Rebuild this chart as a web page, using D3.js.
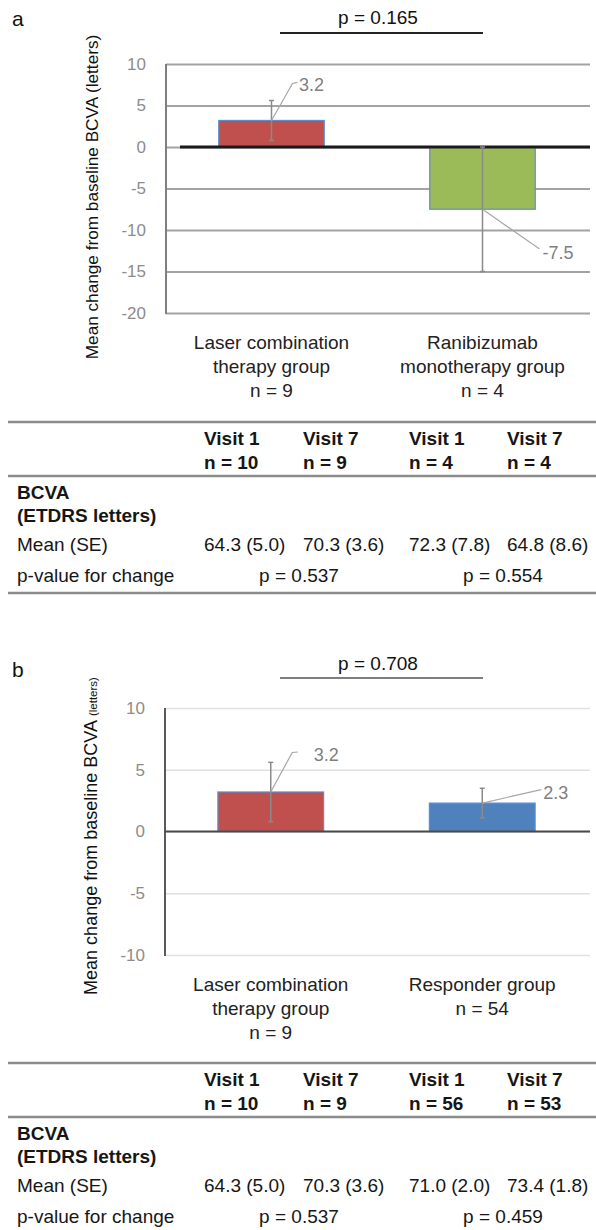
<!DOCTYPE html>
<html><head><meta charset="utf-8">
<script src="https://cdn.jsdelivr.net/npm/d3@7"></script>
<style>body{margin:0;background:#fff}svg{display:block}</style>
</head><body>
<svg id="c" width="596" height="1230"></svg>
<script>
// ---------- DATA ----------
const categoriesA = ["Laser combination therapy group", "Ranibizumab monotherapy group"];
const labelLinesA = [["Laser combination", "therapy group", "n = 9"], ["Ranibizumab", "monotherapy group", "n = 4"]];
const valuesA = [3.2, -7.5];
const errorsA = [2.4, 7.5];
const ticksA = [10, 5, 0, -5, -10, -15, -20];
const pCompareA = "p = 0.165";

const categoriesB = ["Laser combination therapy group", "Responder group"];
const labelLinesB = [["Laser combination", "therapy group", "n = 9"], ["Responder group", "n = 54"]];
const valuesB = [3.2, 2.3];
const errorsB = [2.4, 1.2];
const ticksB = [10, 5, 0, -5, -10];
const pCompareB = "p = 0.708";

const visitHeadA = [["Visit 1", "n = 10"], ["Visit 7", "n = 9"], ["Visit 1", "n = 4"], ["Visit 7", "n = 4"]];
const meansA = ["64.3 (5.0)", "70.3 (3.6)", "72.3 (7.8)", "64.8 (8.6)"];
const pChangeA = ["p = 0.537", "p = 0.554"];

const visitHeadB = [["Visit 1", "n = 10"], ["Visit 7", "n = 9"], ["Visit 1", "n = 56"], ["Visit 7", "n = 53"]];
const meansB = ["64.3 (5.0)", "70.3 (3.6)", "71.0 (2.0)", "73.4 (1.8)"];
const pChangeB = ["p = 0.537", "p = 0.459"];

const rowLabels = ["BCVA", "(ETDRS letters)", "Mean (SE)", "p-value for change"];
const barColorsA = ["#C0504D", "#9BBB59"];
const barColorsB = ["#C0504D", "#4F81BD"];

// ---------- LAYOUT ----------
const FONT = "'Liberation Sans', Arial, Helvetica, sans-serif";
const svg = d3.select("#c");

function panel(cfg) {
  const g = svg.append("g");
  const x = d3.scaleBand().domain(cfg.categories).range([cfg.x0, cfg.x1]).paddingInner(0.5).paddingOuter(0.25);
  const y = d3.scaleLinear().domain(cfg.domain).range([cfg.yBottom, cfg.yTop]);

  // panel letter
  g.append("text").attr("x", 12).attr("y", cfg.letterY).text(cfg.letter)
    .attr("font-family", FONT).attr("font-size", 21).attr("fill", "#111");

  // p compare
  g.append("text").attr("x", 378).attr("y", cfg.yTop - cfg.pOff).attr("dy", "0.35em")
    .attr("text-anchor", "middle").attr("font-family", FONT).attr("font-size", 19).attr("fill", "#111")
    .text(cfg.pText);
  g.append("line").attr("x1", 280).attr("x2", 483)
    .attr("y1", cfg.yTop - cfg.pLineOff).attr("y2", cfg.yTop - cfg.pLineOff)
    .attr("stroke", cfg.pLineColor).attr("stroke-width", 2);

  // grid + ticks
  const ax = g.append("g").attr("transform", `translate(${cfg.x0},0)`)
    .call(d3.axisLeft(y).tickValues(cfg.ticks).tickSize(-(cfg.x1 + 2 - cfg.x0)).tickPadding(20).tickFormat(d3.format("d")));
  ax.select(".domain").remove();
  ax.selectAll(".tick line").attr("stroke", cfg.gridColor).attr("stroke-width", cfg.gridWidth);
  ax.selectAll(".tick text").attr("font-family", FONT).attr("font-size", 17).attr("fill", "#8c8c8c")
    .text(d => d < 0 ? "-" + Math.abs(d) : d);

  // y axis line
  g.append("line").attr("x1", cfg.x0).attr("x2", cfg.x0).attr("y1", y(cfg.domain[1])).attr("y2", y(cfg.domain[0]) + 1)
    .attr("stroke", cfg.axisColor).attr("stroke-width", 2);

  // y title
  const t = g.append("text").attr("transform", `translate(${cfg.titleX},${cfg.titleY}) rotate(-90)`)
    .attr("text-anchor", "middle").attr("font-family", FONT).attr("fill", "#111");
  t.append("tspan").attr("font-size", cfg.titleSize).text("Mean change from baseline BCVA ");
  t.append("tspan").attr("font-size", cfg.titleSmall).text("(letters)");

  // bars
  const data = cfg.categories.map((c, i) => ({c, v: cfg.values[i], e: cfg.errors[i], col: cfg.colors[i], i}));
  g.selectAll("rect.bar").data(data).join("rect").attr("class", "bar")
    .attr("x", d => x(d.c)).attr("width", x.bandwidth())
    .attr("y", d => Math.min(y(d.v), y(0))).attr("height", d => Math.abs(y(d.v) - y(0)))
    .attr("fill", d => d.col).attr("stroke", "#5B8ED0").attr("stroke-width", 1.2);

  // zero line
  g.append("line").attr("x1", cfg.zeroStart).attr("x2", cfg.x1 + 2).attr("y1", y(0)).attr("y2", y(0))
    .attr("stroke", cfg.zeroColor).attr("stroke-width", cfg.zeroWidth);

  // error bars
  const cx = d => x(d.c) + x.bandwidth() / 2;
  g.selectAll("line.err").data(data).join("line").attr("class", "err")
    .attr("x1", cx).attr("x2", cx).attr("y1", d => y(d.v + d.e)).attr("y2", d => y(d.v - d.e))
    .attr("stroke", "#8a8a8a").attr("stroke-width", 1.5);
  ["top", "bot"].forEach(k => {
    g.selectAll("line.cap" + k).data(data).join("line").attr("class", "cap" + k)
      .attr("x1", d => cx(d) - 2.5).attr("x2", d => cx(d) + 2.5)
      .attr("y1", d => y(k === "top" ? d.v + d.e : d.v - d.e)).attr("y2", d => y(k === "top" ? d.v + d.e : d.v - d.e))
      .attr("stroke", "#8a8a8a").attr("stroke-width", 1.5);
  });

  // data labels with leader lines
  data.forEach((d, i) => {
    const L = cfg.labelOff[i];
    const px = cx(d), py = y(d.v);
    g.append("path").attr("d", `M${px},${py} L${px + L.lx},${py + L.ly} L${px + L.lx2},${py + L.ly2}`)
      .attr("fill", "none").attr("stroke", "#a6a6a6").attr("stroke-width", 1.2);
    g.append("text").attr("x", px + L.tx).attr("y", py + L.ty).attr("dy", "0.35em")
      .attr("font-family", FONT).attr("font-size", 18).attr("fill", "#7f7f7f")
      .text(d.v.toFixed(1));
  });

  // category labels
  cfg.labelLines.forEach((lines, i) => {
    const c = x(cfg.categories[i]) + x.bandwidth() / 2;
    lines.forEach((ln, j) => {
      g.append("text").attr("x", c).attr("y", y(cfg.domain[0]) + 29 + j * 24).attr("dy", "0.35em")
        .attr("text-anchor", "middle").attr("font-family", FONT).attr("font-size", 19).attr("fill", "#222")
        .text(ln);
    });
  });

  // table
  const T = cfg.tableTop;
  const colX = [204, 303, 409, 507];
  const hl = yy => g.append("line").attr("x1", 8).attr("x2", 596).attr("y1", yy).attr("y2", yy)
    .attr("stroke", "#8c8c8c").attr("stroke-width", 2.5);
  hl(T); hl(T + 54); hl(T + 171);
  const txt = (xx, yy, s, bold, anchor) => g.append("text").attr("x", xx).attr("y", yy).attr("dy", "0.35em")
    .attr("text-anchor", anchor || "start").attr("font-family", FONT).attr("font-size", 19)
    .attr("font-weight", bold ? "bold" : "normal").attr("fill", "#161616").text(s);
  cfg.visitHead.forEach((h, i) => { txt(colX[i], T + 16, h[0], true); txt(colX[i], T + 40, h[1], true); });
  txt(17, T + 70, rowLabels[0], true);
  txt(17, T + 93, rowLabels[1], true);
  txt(17, T + 122, rowLabels[2], false);
  txt(17, T + 153, rowLabels[3], false);
  cfg.means.forEach((m, i) => txt(colX[i], T + 122, m, false));
  cfg.pChange.forEach((p, i) => txt(i === 0 ? 299 : 503, T + 153, p, false, "middle"));
}

panel({
  letter: "a", letterY: 26, categories: categoriesA, labelLines: labelLinesA, values: valuesA, errors: errorsA,
  colors: barColorsA, ticks: ticksA, domain: [-20, 10], yTop: 64, yBottom: 313, x0: 166, x1: 588,
  pText: pCompareA, pOff: 47, pLineOff: 31, pLineColor: "#222",
  gridColor: "#a3a3a3", gridWidth: 1.8, axisColor: "#7f7f7f", zeroColor: "#1a1a1a", zeroWidth: 2.8, zeroStart: 180,
  titleX: 98, titleY: 197, titleSize: 17.2, titleSmall: 17.2,
  labelOff: [{lx: 21, ly: -37, lx2: 26, ly2: -38, tx: 27.5, ty: -35.5}, {lx: 56, ly: 39, lx2: 57, ly2: 39.5, tx: 60, ty: 43}],
  tableTop: 422, visitHead: visitHeadA, means: meansA, pChange: pChangeA
});

panel({
  letter: "b", letterY: 677, categories: categoriesB, labelLines: labelLinesB, values: valuesB, errors: errorsB,
  colors: barColorsB, ticks: ticksB, domain: [-10, 10], yTop: 708, yBottom: 955, x0: 165, x1: 588,
  pText: pCompareB, pOff: 45, pLineOff: 30, pLineColor: "#7f7f7f",
  gridColor: "#e0e0e0", gridWidth: 1.5, axisColor: "#595959", zeroColor: "#4a4a4a", zeroWidth: 2.2, zeroStart: 165,
  titleX: 97, titleY: 836, titleSize: 18, titleSmall: 11.5,
  labelOff: [{lx: 21.5, ly: -39.5, lx2: 27, ly2: -40, tx: 43, ty: -37.5}, {lx: 59, ly: -13.5, lx2: 59, ly2: -13.5, tx: 61, ty: -10}],
  tableTop: 1063, visitHead: visitHeadB, means: meansB, pChange: pChangeB
});
</script>
</body></html>
